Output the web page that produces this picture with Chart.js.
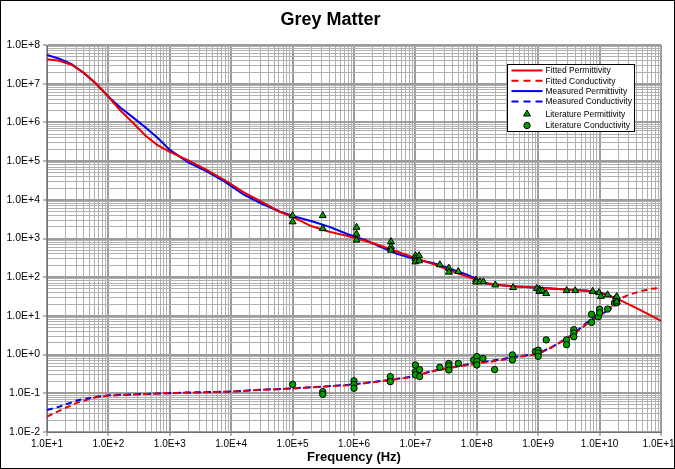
<!DOCTYPE html>
<html><head><meta charset="utf-8">
<script src="https://cdn.jsdelivr.net/npm/chart.js@4.4.1/dist/chart.umd.min.js"></script>
<style>html,body{margin:0;padding:0;background:#fff}</style>
</head><body>
<canvas id="c" width="675" height="469"></canvas>
<script>
// ---- tick labels ----
const xTickLabels = ['1.0E+1','1.0E+2','1.0E+3','1.0E+4','1.0E+5','1.0E+6','1.0E+7','1.0E+8','1.0E+9','1.0E+10','1.0E+11'];
const yTickLabels = ['1.0E-2','1.0E-1','1.0E+0','1.0E+1','1.0E+2','1.0E+3','1.0E+4','1.0E+5','1.0E+6','1.0E+7','1.0E+8'];
const xMinExp = 1, yMinExp = -2;

// ---- Fitted permittivity (red solid) ----
const fitPermFreq = [1e1,1.58e1,2.51e1,3.98e1,6.31e1,1e2,1.58e2,2.51e2,3.98e2,6.31e2,1e3,2e3,3.98e3,7.94e3,1.58e4,3.16e4,6.31e4,1e5,2e5,3.98e5,7.94e5,1.58e6,2.51e6,5.01e6,1e7,2e7,3.98e7,7.08e7,1.41e8,2.51e8,4.47e8,1e9,2.51e9,6.31e9,1e10,2e10,3.98e10,6.31e10,1e11];
const fitPerm     = [4.3e7,3.9e7,3.1e7,1.9e7,1.0e7,4.6e6,2.0e6,9.8e5,4.6e5,2.6e5,1.74e5,1.05e5,5.9e4,3.2e4,1.58e4,8.9e3,4.8e3,3.6e3,2.1e3,1.5e3,1.15e3,850,680,460,310,214,141,102,71,62,57.5,53.7,49,44.7,39.8,27,15.8,11,7.4];

// ---- Measured permittivity (blue solid) ----
const measPermFreq = [1e1,1.58e1,2.51e1,3.98e1,6.31e1,1e2,1.58e2,2.51e2,3.98e2,6.31e2,1e3,2e3,3.98e3,7.94e3,1.58e4,3.16e4,6.31e4,1e5,2.19e5,3.98e5,7.94e5,1.58e6,2.63e6,5.01e6,1e7,2e7,3.98e7,7.08e7,1.41e8,2.51e8,4.47e8,1e9,2.51e9,6.31e9,1e10,1.58e10];
const measPerm     = [5.5e7,4.4e7,3.2e7,1.9e7,1.0e7,4.6e6,2.4e6,1.35e6,7.5e5,4.0e5,1.95e5,9.3e4,5.4e4,2.9e4,1.38e4,7.9e3,4.9e3,3.8e3,2.7e3,2.0e3,1.29e3,890,617,400,290,229,158,115,69,62,57.5,53.7,49,44.7,40.7,31.6];

// ---- Fitted conductivity (red dashed) ----
const fitCondFreq = [1e1,1.58e1,3.16e1,6.31e1,1e2,2.51e2,7.94e2,2.51e3,1e4,3.16e4,1e5,3.16e5,7.94e5,2.51e6,7.94e6,2e7,6.31e7,2.51e8,1e9,1.58e9,2.51e9,3.98e9,6.31e9,1e10,1.41e10,2e10,2.82e10,4.47e10,7.08e10,1e11];
const fitCond     = [0.025,0.035,0.058,0.079,0.087,0.093,0.100,0.105,0.110,0.123,0.132,0.148,0.162,0.200,0.257,0.380,0.525,0.72,1.05,1.48,2.24,3.55,6.3,10,15,25.7,34,42.7,50,53.7];

// ---- Measured conductivity (blue dashed) ----
const measCondFreq = [1e1,1.58e1,3.16e1,6.31e1,1e2,2.51e2,7.94e2,2.51e3,1e4,3.16e4,1e5,3.16e5,7.94e5,2.51e6,7.94e6,2e7,6.31e7,2.51e8,1e9,1.58e9,2.51e9,3.98e9,6.31e9,1e10,1.58e10];
const measCond     = [0.037,0.045,0.066,0.081,0.089,0.094,0.100,0.106,0.111,0.124,0.134,0.150,0.165,0.204,0.262,0.385,0.54,0.76,1.08,1.5,2.3,3.7,6.9,10.5,15.8];

// ---- Literature permittivity (triangles) ----
const litPermFreq = [1e5,1e5,3.1e5,3.1e5,1.1e6,1.1e6,1.1e6,4e6,4e6,4e6,1e7,1e7,1e7,1.15e7,1.15e7,2.5e7,3.5e7,3.5e7,5e7,9.7e7,9.7e7,1.13e8,1.28e8,2e8,3.9e8,9.5e8,1.05e9,1.05e9,1.17e9,1.35e9,2.9e9,4e9,7.7e9,9.8e9,1.05e10,1.35e10,1.9e10,1.9e10];
const litPerm     = [3900,2700,3900,1800,1950,1300,910,830,620,500,360,300,250,360,265,210,170,135,140,85,75,76,76,63,54,51,49,43,45,38,45,45,43,40,32,35,31.5,23];

// ---- Literature conductivity (circles) ----
const litCondFreq = [1e5,3.1e5,3.1e5,1e6,1e6,1e6,3.9e6,3.9e6,1e7,1e7,1e7,1.17e7,1.17e7,2.5e7,3.5e7,3.5e7,3.5e7,5e7,8.9e7,1e8,1e8,1e8,1.26e8,1.95e8,3.8e8,3.8e8,9e8,1e9,1e9,1e9,1.35e9,2.9e9,2.9e9,3.8e9,3.8e9,3.8e9,7.4e9,7.4e9,9.5e9,1e10,1e10,1.35e10,1.75e10,1.9e10,1.9e10,1.85e10];
const litCond     = [0.17,0.11,0.094,0.21,0.17,0.135,0.27,0.20,0.54,0.36,0.30,0.41,0.27,0.47,0.59,0.51,0.40,0.59,0.72,0.89,0.66,0.54,0.80,0.41,0.98,0.73,1.2,1.3,1.1,0.9,2.4,2.4,1.8,4.4,3.6,2.9,11,6.8,9.5,14.9,12,15,21.5,26,22,28];

const toXY = (xs, ys) => xs.map((x, i) => ({x, y: ys[i]}));

const RED = '#e80000', BLUE = '#0000ee', GREEN = '#00a000';
const FONT = "'Liberation Sans', Arial, sans-serif";

function decadeTicks(minExp, n) {
  const t = [];
  for (let e = minExp; e < minExp + n - 1; e++) for (let m = 1; m < 10; m++) t.push(+(m + 'e' + e));
  t.push(+('1e' + (minExp + n - 1)));
  return t;
}
function isMajor(v) { const l = Math.log10(v); return Math.abs(l - Math.round(l)) < 1e-6; }
function gridColor(ctx) { return ctx.tick && isMajor(ctx.tick.value) ? '#9c9c9c' : '#b0b0b0'; }
function gridWidth(ctx) { return ctx.tick && isMajor(ctx.tick.value) ? 2 : 1; }
function tickColor(ctx) { return ctx.tick && isMajor(ctx.tick.value) ? '#707070' : 'rgba(0,0,0,0)'; }

const datasets = [
  {label:'Fitted Permittivity', data: toXY(fitPermFreq, fitPerm), borderColor: RED, borderWidth: 2, pointRadius: 0, showLine: true, order: 3, kind:'line'},
  {label:'Fitted Conductivity', data: toXY(fitCondFreq, fitCond), borderColor: RED, borderWidth: 2, borderDash:[6,4], pointRadius: 0, showLine: true, order: 3, kind:'line'},
  {label:'Measured Permittivity', data: toXY(measPermFreq, measPerm), borderColor: BLUE, borderWidth: 2, pointRadius: 0, showLine: true, order: 4, kind:'line'},
  {label:'Measured Conductivity', data: toXY(measCondFreq, measCond), borderColor: BLUE, borderWidth: 2, borderDash:[6,4], pointRadius: 0, showLine: true, order: 4, kind:'line'},
  {label:'Literature Permittivity', data: toXY(litPermFreq, litPerm), showLine: false, pointStyle:'triangle', pointRadius: 4, backgroundColor: GREEN, borderColor:'#000', pointBorderWidth: 1, borderWidth: 1, order: 1, kind:'tri'},
  {label:'Literature Conductivity', data: toXY(litCondFreq, litCond), showLine: false, pointStyle:'circle', pointRadius: 3.2, backgroundColor: GREEN, borderColor:'#000', pointBorderWidth: 1, borderWidth: 1, order: 1, kind:'circ'}
];

const framePlugin = {
  id: 'frame',
  beforeDraw(chart) {
    const c = chart.ctx; c.save(); c.fillStyle = '#fff'; c.fillRect(0, 0, chart.width, chart.height); c.restore();
  },
  afterDraw(chart) {
    const c = chart.ctx, ca = chart.chartArea;
    c.save();
    c.strokeStyle = '#000'; c.lineWidth = 1;
    c.strokeRect(0.5, 0.5, chart.width - 1, chart.height - 1);
    // legend box
    const bx = ca.right - 153.5, by = ca.top + 19.5, bw = 127, bh = 67;
    c.fillStyle = '#fff'; c.fillRect(bx, by, bw, bh);
    c.strokeStyle = '#000'; c.strokeRect(bx, by, bw, bh);
    const rows = [6, 16.3, 26.6, 37, 49.5, 61];
    c.font = "8.5px " + FONT; c.textBaseline = 'middle'; c.textAlign = 'left';
    chart.data.datasets.forEach((ds, i) => {
      const y = by + rows[i];
      const x1 = bx + 4, x2 = bx + 35;
      if (ds.kind === 'line') {
        c.save(); c.strokeStyle = ds.borderColor; c.lineWidth = 2;
        c.setLineDash(ds.borderDash ? [7,5] : []);
        c.beginPath(); c.moveTo(x1, y); c.lineTo(x2, y); c.stroke(); c.restore();
      } else {
        const cx = (x1 + x2) / 2;
        c.save(); c.fillStyle = GREEN; c.strokeStyle = '#000'; c.lineWidth = 1; c.beginPath();
        if (ds.kind === 'tri') {
          const r = 4;
          c.moveTo(cx, y - r); c.lineTo(cx + r * Math.sin(2*Math.PI/3), y + r/2); c.lineTo(cx - r * Math.sin(2*Math.PI/3), y + r/2); c.closePath();
        } else { c.arc(cx, y, 3.2, 0, Math.PI * 2); }
        c.fill(); c.stroke(); c.restore();
      }
      c.fillStyle = '#000'; c.fillText(ds.label, bx + 38, y + 0.5);
    });
    c.restore();
  }
};

new Chart(document.getElementById('c'), {
  type: 'scatter',
  data: { datasets },
  options: {
    responsive: false, animation: false, devicePixelRatio: 1,
    layout: { padding: { left: 0, right: 14, top: 0, bottom: 0 } },
    elements: { line: { tension: 0 } },
    plugins: {
      legend: { display: false }, tooltip: { enabled: false },
      title: { display: true, text: 'Grey Matter', color: '#000', font: { family: FONT, size: 18, weight: 'bold' }, padding: { top: 9, bottom: 14.4 } }
    },
    scales: {
      x: {
        type: 'logarithmic', position: 'bottom', min: 10, max: 1e11,
        afterBuildTicks(axis) { axis.ticks = decadeTicks(xMinExp, xTickLabels.length).map(v => ({ value: v })); },
        afterFit(s) { s.height = 37; s.paddingLeft = 0; s.paddingRight = 0; },
        ticks: { autoSkip: false, maxRotation: 0, minRotation: 0, padding: 2, color: '#000', font: { family: FONT, size: 10 },
          callback: v => isMajor(v) ? xTickLabels[Math.round(Math.log10(v)) - xMinExp] : '' },
        grid: { color: gridColor, lineWidth: gridWidth, tickColor: tickColor, tickLength: 4, tickWidth: 1 },
        border: { color: '#707070', width: 1 },
        title: { display: true, text: 'Frequency (Hz)', color: '#000', font: { family: FONT, size: 13, weight: 'bold' }, padding: { top: 2, bottom: 4 } }
      },
      y: {
        type: 'logarithmic', position: 'left', min: 0.01, max: 1e8,
        afterBuildTicks(axis) { axis.ticks = decadeTicks(yMinExp, yTickLabels.length).map(v => ({ value: v })); },
        afterFit(s) { s.width = 47; s.paddingTop = 0; s.paddingBottom = 0; },
        ticks: { autoSkip: false, padding: 3, color: '#000', font: { family: FONT, size: 10.5 },
          callback: v => isMajor(v) ? yTickLabels[Math.round(Math.log10(v)) - yMinExp] : '' },
        grid: { color: gridColor, lineWidth: gridWidth, tickColor: tickColor, tickLength: 4, tickWidth: 1 },
        border: { color: '#707070', width: 1 }
      }
    }
  },
  plugins: [framePlugin]
});
</script>
</body></html>
